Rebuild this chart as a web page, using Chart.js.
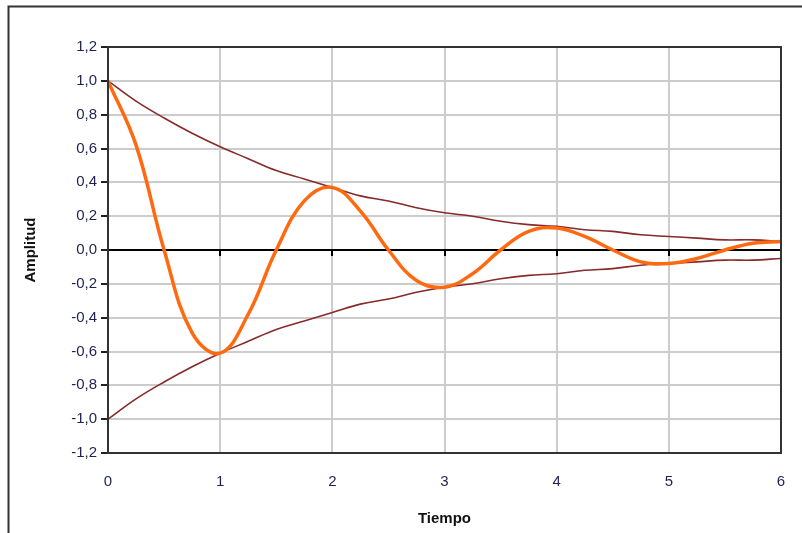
<!DOCTYPE html>
<html>
<head>
<meta charset="utf-8">
<script src="https://cdn.jsdelivr.net/npm/chart.js@4/dist/chart.umd.min.js"></script>
<style>
  html, body { margin: 0; padding: 0; background: #fff; }
  #wrap { width: 802px; height: 533px; position: relative; }
</style>
</head>
<body>
<div id="wrap"><canvas id="amplitudChart" width="802" height="533"></canvas></div>
<script>
// Tiempo (s), muestreado cada 0,25
var tiempo = [0, 0.25, 0.5, 0.75, 1, 1.25, 1.5, 1.75, 2, 2.25, 2.5, 2.75, 3,
              3.25, 3.5, 3.75, 4, 4.25, 4.5, 4.75, 5, 5.25, 5.5, 5.75, 6];
// senal amortiguada (naranja)
var senal = [1.00, 0.62, 0.00, -0.49, -0.61, -0.38, 0.00, 0.29, 0.37, 0.23, 0.00, -0.18, -0.22,
             -0.14, 0.00, 0.11, 0.13, 0.08, 0.00, -0.07, -0.08, -0.05, 0.00, 0.04, 0.05];
// envolventes
var envSup = [1.00, 0.88, 0.78, 0.69, 0.61, 0.54, 0.47, 0.42, 0.37, 0.32, 0.29, 0.25, 0.22,
              0.20, 0.17, 0.15, 0.14, 0.12, 0.11, 0.09, 0.08, 0.07, 0.06, 0.06, 0.05];
var envInf = [-1.00, -0.88, -0.78, -0.69, -0.61, -0.54, -0.47, -0.42, -0.37, -0.32, -0.29, -0.25, -0.22,
              -0.20, -0.17, -0.15, -0.14, -0.12, -0.11, -0.09, -0.08, -0.07, -0.06, -0.06, -0.05];
var xTicks = [0, 1, 2, 3, 4, 5, 6];
var yTicks = [-1.2, -1.0, -0.8, -0.6, -0.4, -0.2, 0.0, 0.2, 0.4, 0.6, 0.8, 1.0, 1.2];

function toPoints(ys) {
  return tiempo.map(function(t, i) { return { x: t, y: ys[i] }; });
}

// frame + ticks on the zero line, like the excel chart
var marcoPlugin = {
  id: 'marco',
  beforeDraw: function(chart) {
    var c = chart.ctx;
    c.save();
    c.strokeStyle = '#333';
    c.lineWidth = 2;
    c.beginPath();
    c.moveTo(8.5, 533);
    c.lineTo(8.5, 6.5);
    c.lineTo(802, 6.5);
    c.stroke();
    c.restore();
  },
  afterDatasetsDraw: function(chart) {
    var c = chart.ctx, xs = chart.scales.x, ys = chart.scales.y, a = chart.chartArea;
    var y0 = ys.getPixelForValue(0);
    c.save();
    c.strokeStyle = '#000';
    c.lineWidth = 2;
    xTicks.forEach(function(v) {
      if (v === 0 || v === 6) return;
      var px = Math.round(xs.getPixelForValue(v));
      c.beginPath();
      c.moveTo(px, y0);
      c.lineTo(px, y0 + 6);
      c.stroke();
    });
    c.strokeStyle = '#333';
    c.strokeRect(a.left, a.top, a.right - a.left, a.bottom - a.top);
    c.restore();
  }
};

var ctx = document.getElementById('amplitudChart').getContext('2d');
var chart = new Chart(ctx, {
  type: 'line',
  data: {
    datasets: [
      { data: toPoints(envSup), borderColor: '#862a2a', borderWidth: 1.6, pointRadius: 0, tension: 0.4, fill: false, order: 2 },
      { data: toPoints(envInf), borderColor: '#862a2a', borderWidth: 1.6, pointRadius: 0, tension: 0.4, fill: false, order: 2 },
      { data: toPoints(senal), borderColor: '#ff6a10', borderWidth: 3.5, pointRadius: 0, tension: 0.4, fill: false, order: 1 }
    ]
  },
  options: {
    responsive: false,
    animation: false,
    events: [],
    layout: { padding: { left: 10, right: 21, top: 47, bottom: 0 } },
    plugins: { legend: { display: false }, tooltip: { enabled: false } },
    scales: {
      x: {
        type: 'linear',
        min: 0, max: 6,
        afterFit: function(s) { s.height = 80; s.paddingLeft = 0; s.paddingRight = 0; },
        afterBuildTicks: function(s) { s.ticks = xTicks.map(function(v) { return { value: v }; }); },
        grid: { color: '#cccccc', lineWidth: 2, drawTicks: false },
        border: { display: false },
        ticks: {
          padding: 20,
          color: '#1e2250',
          font: { family: 'Liberation Sans', size: 15 },
          callback: function(v) { return String(v); }
        },
        title: {
          display: true, text: 'Tiempo', color: '#111',
          font: { family: 'Liberation Sans', size: 15, weight: 'bold' },
          padding: { top: 0, bottom: 5 }
        }
      },
      y: {
        type: 'linear',
        min: -1.2, max: 1.2,
        afterFit: function(s) { s.width = 98; s.paddingTop = 0; s.paddingBottom = 0; },
        afterBuildTicks: function(s) { s.ticks = yTicks.map(function(v) { return { value: v }; }); },
        grid: {
          color: function(c) { return Math.abs(c.tick.value) < 1e-9 ? '#000' : '#cccccc'; },
          lineWidth: 2,
          tickColor: '#222',
          tickLength: 7
        },
        border: { display: false },
        ticks: {
          padding: 4,
          color: '#1e2250',
          font: { family: 'Liberation Sans', size: 15 },
          callback: function(v) { return v.toFixed(1).replace('.', ','); }
        },
        title: {
          display: true, text: 'Amplitud', color: '#111',
          font: { family: 'Liberation Sans', size: 15, weight: 'bold' },
          padding: { top: 12, bottom: 0 }
        }
      }
    }
  },
  plugins: [marcoPlugin]
});
</script>
</body>
</html>
